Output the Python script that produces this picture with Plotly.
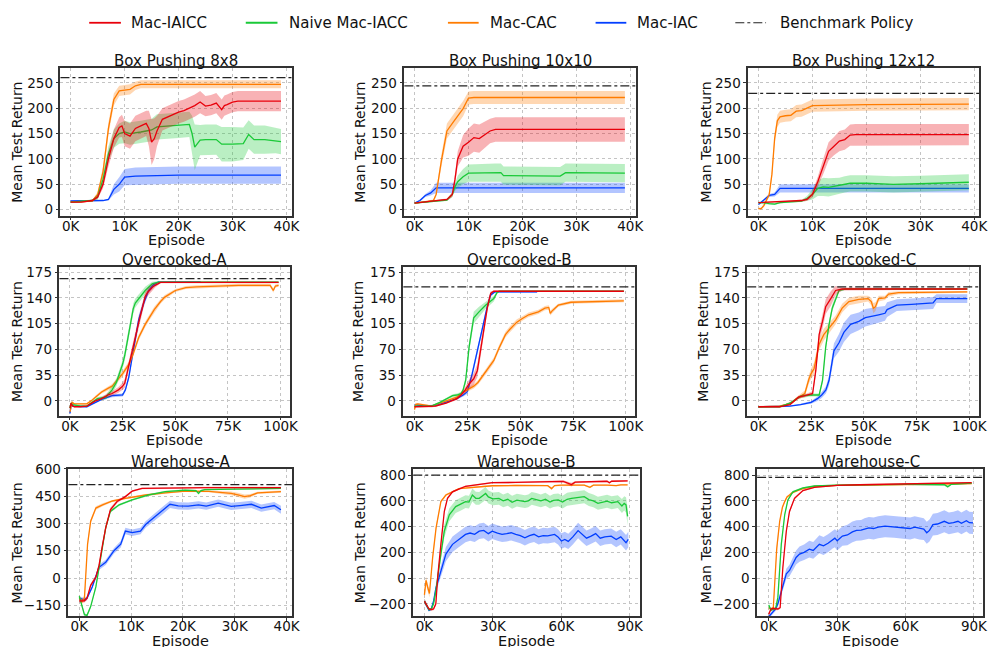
import plotly.graph_objects as go

W, H = 999, 647
FONT = "DejaVu Sans"

SERIES = ["Mac-IAICC", "Naive Mac-IACC", "Mac-CAC", "Mac-IAC"]
BENCH_NAME = "Benchmark Policy"
COLORS = {"Mac-IAICC": (232, 0, 11), "Naive Mac-IACC": (26, 201, 56),
          "Mac-CAC": (255, 124, 0), "Mac-IAC": (2, 62, 255)}

TITLES = ["Box Pushing 8x8", "Box Pushing 10x10", "Box Pushing 12x12",
          "Overcooked-A", "Overcooked-B", "Overcooked-C",
          "Warehouse-A", "Warehouse-B", "Warehouse-C"]
BENCHMARK = [260, 244, 229, 166, 155, 155, 513, 800, 782]

# ---- data: (episode in thousands, mean test return, band half-width) ----
BP8_IAICC = [(0,15,1),(2,15,1),(4,18,2),(5,25,4),(6,50,8),(7,100,15),(8,140,18),(9,162,20),(9.5,165,22),(10,150,25),(11,145,25),(12,160,25),(13,165,25),(14,170,25),(14.5,160,35),(15,133,45),(15.5,140,40),(16,155,30),(17,178,22),(18,183,22),(19,187,22),(20,192,22),(21,195,22),(22,200,22),(23,205,22),(24,212,22),(25,204,20),(26,206,20),(27,210,20),(28,197,20),(28.5,205,20),(29,207,20),(30,212,20),(31,214,20),(39,214,20)]
BP8_NAIVE = [(0,15,1),(4,18,2),(5,25,5),(6,60,10),(7,110,15),(8,140,18),(9,150,20),(10,153,22),(11,150,22),(12,151,22),(13,153,22),(14,155,22),(15,157,22),(16,163,25),(18,165,25),(20,166,25),(22,168,25),(22.5,150,35),(23,123,45),(24,137,30),(25,138,30),(27,138,30),(28,129,34),(30,129,34),(32,130,32),(33,148,28),(34,138,28),(36,138,28),(38,136,25),(39,134,25)]
BP8_CAC = [(0,15,1),(4,17,2),(5,30,5),(6,75,10),(7,160,12),(8,217,12),(9,234,10),(10,236,10),(11,237,10),(12,244,8),(13,247,8),(39,247,8)]
BP8_IAC = [(0,17,1),(6,18,1),(7,20,2),(8,40,10),(9,50,14),(10,64,16),(12,66,17),(15,67,17),(20,68,17),(39,68,17)]

BP10_IAICC = [(0,13,1),(6,20,2),(7,30,5),(7.5,60,10),(8,100,15),(9,125,22),(10,133,27),(11,142,28),(12,140,28),(13,147,26),(14,155,24),(15,158,24),(39,158,24)]
BP10_NAIVE = [(0,13,1),(3,16,2),(6,19,2),(7,30,5),(7.5,45,8),(8,55,12),(9,65,15),(10,72,17),(15,73,18),(16,73,18),(16.5,67,18),(20,67,18),(27,66,18),(28,73,18),(39,72,18)]
BP10_CAC = [(0,13,1),(2,15,1),(3,17,2),(3.5,18,2),(4,30,5),(5,98,12),(6,155,15),(7,170,15),(8,185,15),(9,199,15),(10,220,13),(11,221,13),(39,221,13)]
BP10_IAC = [(0,13,1),(1,18,2),(2,28,3),(3,33,5),(4,43,10),(39,43,10)]

BP12_IAICC = [(0,14,1),(5,16,1),(8,18,2),(9,20,3),(10,30,6),(11,55,10),(12,85,15),(13,115,18),(14,125,18),(15,135,20),(16,138,20),(17,147,21),(18,148,21),(39,148,21)]
BP12_NAIVE = [(0,14,2),(1,14,2),(2,12,2),(3,11,2),(4,14,2),(5,15,2),(8,17,2),(9,22,5),(10,30,10),(11,42,15),(12,45,18),(13,44,18),(14,46,17),(15,47,16),(16,50,16),(17,52,16),(20,52,16),(25,50,16),(30,51,16),(39,54,16)]
BP12_CAC = [(0,2,2),(0.5,2,2),(1,8,3),(2,30,5),(2.5,70,8),(3,140,10),(3.5,175,12),(4,183,12),(5,185,12),(6,186,12),(7,194,12),(8,195,12),(9,200,12),(10,205,12),(15,206,12),(20,207,12),(39,208,12)]
BP12_IAC = [(0,10,1),(1,20,2),(2,28,3),(3,30,4),(3.5,35,6),(4,42,8),(39,42,8)]

OCA_IAICC = [(0,-10,2),(0.5,-3,2),(1,-6,1),(2,-8,1),(5,-8,1),(8,-7,1),(12,0,1),(15,3,2),(18,8,3),(20,10,3),(23,15,4),(25,20,5),(26,24,6),(27,37,7),(28,50,8),(30,73,8),(32.6,106,8),(35.7,142,6),(37,148,5),(39,154,4),(40.4,157,3),(43,161,1),(60,161,1),(99,161,1)]
OCA_NAIVE = [(0,-10,2),(0.5,-3,2),(1,-5,1),(5,-7,1),(8,-7,1),(10,-3,1),(13,3,2),(17,5,3),(18,8,4),(20,15,5),(22,25,5),(23.5,37,6),(25,50,6),(26,62,7),(27,77,7),(28.5,100,7),(30,125,7),(31,133,6),(32.6,139,6),(35.7,150,5),(39,159,3),(42,161.5,1),(99,161.5,1)]
OCA_CAC = [(0,-15,2),(0.5,-5,2),(1,-2,2),(2,-4,1),(5,-4,1),(8,-4,1),(10,0,1),(12,5,2),(15,12,2),(18,17,3),(20,20,3),(25,37,4),(28,50,4),(30,64,4),(32.6,86,4),(35.7,104,4),(38,115,4),(40,124,4),(43,135,3),(45,141,3),(50,150,2),(55,154,2),(60,155,2),(70,156,2),(80,157,2),(95,157,2),(96.5,150,3),(97.5,156,2),(99,157,2)]
OCA_IAC = [(0,-17,2),(0.5,-5,2),(1,-7,1),(5,-8,1),(8,-8,1),(10,-5,1),(15,2,1),(20,7,2),(25,8,2),(26.3,15,3),(27.9,32,4),(29.5,59,5),(31,86,6),(32.6,110,6),(35,133,5),(37.3,150,4),(39.7,158,3),(42,161.5,1),(62,161.5,1)]

OCB_IAICC = [(0,-8,1),(8,-8,1),(10,-7,1),(15,-3,1),(18,0,1),(20,3,2),(22,8,2),(24,15,4),(25.8,23,6),(28,30,8),(29.7,41,9),(31.2,68,9),(32.8,95,8),(34.4,126,6),(36,146,3),(37.5,149,1),(99,149,1)]
OCB_NAIVE = [(0,-7,1),(3,-7,1),(8,-7,1),(12,-2,1),(15,3,1),(18,7,2),(20,8,2),(22,10,2),(23,15,3),(24.2,28,5),(25.8,73,7),(28,113,8),(30.5,121,7),(33.6,130,5),(37.5,139,4),(39,147,2),(40,149,1),(99,149,1)]
OCB_CAC = [(0,-12,2),(0.5,-5,2),(1.5,-4,1),(3,-5,1),(6,-6,1),(8,-7,1),(10,-5,1),(15,0,1),(20,5,2),(22,10,2),(25,15,2),(28,20,3),(30,25,3),(32,33,3),(35,45,4),(37.5,55,4),(40,72,4),(43,90,4),(45,97,4),(48.4,107,4),(51,112,3),(54,117,3),(58.6,121,3),(61.7,126,3),(63.5,127,3),(64.2,119,3),(65,122,3),(68,130,2),(74,134,2),(83.6,135,2),(99,136,2)]
OCB_IAC = [(0,-5,1),(5,-7,1),(10,-6,1),(15,-1,1),(20,3,1),(23,8,2),(25,12.5,3),(27.3,37,5),(29.7,68,6),(32,97,5),(34.4,128,4),(36,144,3),(38,148,1),(58,148,1)]

OCC_IAICC = [(0,-8,1),(10,-8,1),(15,-5,1),(17,0,1),(19,5,2),(22,7,2),(25,10,2),(25.7,10,3),(27.2,41,6),(28.8,90,8),(30.4,108,10),(31.9,128,10),(34.3,139,10),(36.6,150,6),(39.7,152,2),(99,152,1)]
OCC_NAIVE = [(0,-8,1),(10,-8,1),(15,-3,1),(18,3,1),(20,6,2),(22,7,2),(25,8,2),(28.8,8,2),(30.4,28,4),(31.9,73,5),(33.5,104,5),(35,126,5),(36.6,139,4),(38.2,150,2),(41.3,152,1),(99,152,1)]
OCC_CAC = [(0,-8,1),(10,-7,1),(13,-5,1),(16,-2,2),(18,3,2),(20,7,3),(22,10,4),(24,30,6),(25,37,7),(26.4,44,8),(28.8,77,8),(31,90,8),(33.5,99,7),(36.6,110,6),(39.7,126,6),(42.9,135,5),(47.6,138,5),(52,139,4),(53.5,135,5),(54.5,126,7),(55.5,128,6),(57,139,4),(60,140,3),(61.7,145,3),(66.4,147,2),(99,148,1)]
OCC_IAC = [(0,-8,1),(10,-8,1),(15,-7,1),(20,-5,1),(25,-2,2),(28,3,3),(30,8,4),(32,15,5),(33.5,28,7),(35.8,68,10),(38.2,79,12),(40.5,93,13),(43.7,104,13),(47.6,108,12),(50.7,113,12),(57,117,11),(60,119,10),(61,124,10),(65.6,130,8),(72.6,131,8),(82.8,133,8),(84.4,139,6),(99,139,6)]

WHA_IAICC = [(0,-125,10),(1,-125,10),(1.5,-110,10),(2.2,-40,10),(3.2,5,10),(3.8,68,12),(4.5,185,15),(5.1,276,15),(6,375,12),(7.3,420,8),(8.9,447,6),(10.2,477,5),(12.1,492,4),(16.6,495,4),(25,497,4),(38.9,497,4)]
WHA_NAIVE = [(0,-100,10),(0.5,-150,10),(1,-201,8),(1.5,-205,8),(2.2,-157,8),(3.2,-49,8),(4.1,95,10),(5.1,276,10),(6,366,8),(7.7,402,6),(10.2,429,5),(13.4,456,5),(16.6,474,5),(20.4,483,5),(22.5,480,5),(23,465,8),(23.5,480,5),(24.2,486,4),(30,488,4),(38.9,492,4)]
WHA_CAC = [(0,-110,15),(0.5,-130,15),(1,-110,15),(1.6,185,15),(2.2,312,12),(3.2,384,10),(4.5,402,8),(6.4,423,6),(8.9,438,5),(12.8,456,5),(16.6,468,5),(20.4,477,5),(25,476,5),(29.3,465,10),(30.6,456,12),(31.9,447,12),(33,452,10),(34.4,468,6),(38.9,474,6)]
WHA_IAC = [(0,-110,10),(1,-120,10),(1.5,-110,10),(2.5,-49,10),(3.8,59,15),(5.1,86,15),(6.7,150,15),(8,186,18),(8.9,258,18),(10.2,249,18),(11.8,258,18),(12.8,294,18),(14.7,339,20),(15.9,366,20),(17.5,405,20),(19.1,396,20),(21,395,20),(23,402,20),(24.5,395,20),(26.8,411,20),(29.3,393,20),(31,398,20),(33.2,405,20),(35.1,384,20),(36.5,390,20),(37.6,398,20),(38.9,375,22)]

WHB_IAICC = [(0,-180,20),(1,-210,15),(2,-240,10),(3,-245,10),(4,-240,10),(5,-200,15),(5.8,8,20),(7.2,262,20),(8.7,517,15),(10.1,619,10),(12.3,670,8),(18,713,6),(29.7,741,6),(40,743,6),(50,746,6),(60.8,751,8),(62.5,740,10),(64.4,726,15),(66,745,8),(70,748,6),(80,752,6),(81,740,8),(82,752,6),(89,755,6)]
WHB_NAIVE = [(0,-180,20),(1,-210,15),(2,-245,10),(3,-240,10),(4,-200,15),(5,-100,20),(6,50,30),(7.2,186,40),(8.7,364,50),(10.9,492,50),(13.7,555,50),(16,575,50),(18,594,50),(19.5,590,50),(21,645,50),(22.5,620,50),(24,619,50),(25.5,640,50),(26.8,657,50),(28,630,50),(30,615,50),(32.6,619,50),(34.5,600,50),(36.5,612,50),(38.4,589,50),(40.5,605,50),(42,600,50),(44,594,50),(45.5,600,50),(47,619,50),(49,610,50),(51,600,50),(53,612,50),(55,590,50),(56.5,603,50),(58.6,607,50),(60.5,590,50),(62.5,612,50),(64.4,619,50),(66.5,623,50),(68.5,628,50),(70,632,50),(72,610,50),(74,600,50),(76,581,50),(78,590,50),(80,597,50),(82,585,50),(84.7,594,50),(86.5,560,55),(87.5,580,55),(88.3,568,60),(89,479,70)]
WHB_CAC = [(0,-130,30),(0.7,-18,30),(1.4,-69,30),(2.2,-120,30),(3.6,160,25),(5.1,390,20),(7.2,594,10),(9.4,645,8),(15.2,695,6),(29.7,717,5),(40,719,5),(50,720,5),(54,718,5),(55.7,695,10),(57,718,5),(60,722,5),(70,722,5),(72.5,705,8),(74,722,5),(80,722,5),(84,718,5),(86,724,5),(89,724,5)]
WHB_IAC = [(0,-180,20),(1,-220,15),(2,-250,10),(3,-240,10),(4,-180,20),(5,-80,30),(6.5,8,40),(8,100,50),(9.4,186,55),(12.3,262,60),(15,300,60),(18,339,60),(20,350,60),(22,340,60),(24,364,60),(26,370,60),(28,345,60),(29.7,364,60),(32,350,60),(34,340,60),(36,345,60),(38,352,60),(40,340,60),(42,330,60),(44,313,60),(46,330,60),(48,340,60),(50,320,60),(52,330,60),(54,328,60),(57,339,60),(58.5,320,60),(60,288,60),(61.5,300,60),(63,285,60),(65,320,60),(67.3,369,60),(69,340,60),(71,310,60),(73,326,60),(75,345,60),(77,310,60),(79,320,60),(81.8,326,60),(84,300,60),(86,320,60),(88.3,275,60),(89.3,300,60)]

WHC_IAICC = [(0,-280,15),(0.5,-260,10),(1,-240,10),(2,-235,10),(3,-240,10),(4,-240,10),(5,-230,10),(6.2,84,20),(7.7,364,20),(9.1,517,15),(11.3,619,10),(13.5,657,8),(15,680,6),(20,705,5),(30,720,5),(40,725,5),(60,732,5),(89,742,5)]
WHC_NAIVE = [(0,-210,15),(1,-250,10),(2,-240,10),(3,-240,10),(4,-150,15),(5.5,262,20),(7,492,15),(8.4,607,10),(10.6,670,8),(15,700,5),(20,715,5),(30,722,5),(60,728,5),(77,725,5),(78.5,710,10),(80,728,5),(89,738,5)]
WHC_CAC = [(0,-230,15),(1,-240,10),(2,-230,10),(2.5,-100,15),(3,100,20),(3.5,230,20),(4.8,440,15),(6,550,12),(7,594,10),(8,630,8),(9.1,645,8),(10,660,6),(12,675,6),(15,695,5),(20,712,5),(30,720,5),(40,722,5),(60,725,5),(80,728,5),(89,733,5)]
WHC_IAC = [(0,-300,15),(1,-280,15),(2,-260,15),(3,-240,15),(4,-200,20),(5,-140,25),(6.2,-69,30),(7.7,33,40),(9.1,59,45),(10.6,110,50),(12,160,55),(13.5,186,60),(15.5,200,60),(17.8,224,65),(19.5,215,65),(22.2,262,70),(24,250,70),(26,270,70),(28,300,70),(29,310,70),(30,290,75),(32.3,326,75),(34.5,335,80),(36.7,359,80),(38.5,370,80),(40.5,372,80),(42,380,85),(43.9,390,85),(46,385,85),(48,395,85),(51,403,85),(53,400,85),(55,398,85),(57,395,85),(59.9,390,85),(62,385,85),(64,395,85),(66,385,85),(68,380,85),(69.3,352,85),(70.5,370,85),(72,415,85),(74,420,85),(77,441,85),(79,425,85),(81,430,85),(83,441,85),(84.5,425,85),(86.7,446,85),(88,430,85),(89.6,428,85)]

PANELS = [
    {"Mac-IAICC": BP8_IAICC, "Naive Mac-IACC": BP8_NAIVE, "Mac-CAC": BP8_CAC, "Mac-IAC": BP8_IAC},
    {"Mac-IAICC": BP10_IAICC, "Naive Mac-IACC": BP10_NAIVE, "Mac-CAC": BP10_CAC, "Mac-IAC": BP10_IAC},
    {"Mac-IAICC": BP12_IAICC, "Naive Mac-IACC": BP12_NAIVE, "Mac-CAC": BP12_CAC, "Mac-IAC": BP12_IAC},
    {"Mac-IAICC": OCA_IAICC, "Naive Mac-IACC": OCA_NAIVE, "Mac-CAC": OCA_CAC, "Mac-IAC": OCA_IAC},
    {"Mac-IAICC": OCB_IAICC, "Naive Mac-IACC": OCB_NAIVE, "Mac-CAC": OCB_CAC, "Mac-IAC": OCB_IAC},
    {"Mac-IAICC": OCC_IAICC, "Naive Mac-IACC": OCC_NAIVE, "Mac-CAC": OCC_CAC, "Mac-IAC": OCC_IAC},
    {"Mac-IAICC": WHA_IAICC, "Naive Mac-IACC": WHA_NAIVE, "Mac-CAC": WHA_CAC, "Mac-IAC": WHA_IAC},
    {"Mac-IAICC": WHB_IAICC, "Naive Mac-IACC": WHB_NAIVE, "Mac-CAC": WHB_CAC, "Mac-IAC": WHB_IAC},
    {"Mac-IAICC": WHC_IAICC, "Naive Mac-IACC": WHC_NAIVE, "Mac-CAC": WHC_CAC, "Mac-IAC": WHC_IAC},
]

# ---- layout: panel frames in pixels (left, right, top, bottom) ----
RECTS = [(61, 295, 61, 211), (408, 642, 61, 211), (755, 988, 61, 211),
         (60, 293, 263, 414), (407, 641, 263, 414), (754, 988, 263, 414),
         (69, 295, 468, 618), (417, 646, 468, 618), (764, 992, 468, 618)]
XRANGES = [(-1.9, 41.1), (-1.9, 41.1), (-1.9, 40.9),
           (-5.0, 104.6), (-5.3, 104.4), (-5.3, 104.6),
           (-2.1, 41.1), (-4.9, 94.5), (-5.1, 94.0)]
YRANGES = [(-12, 279)] * 3 + [(-20, 182)] * 3 + [(-211, 600), (-298, 849), (-298, 849)]
XTICKS = [[0, 10, 20, 30, 40]] * 3 + [[0, 25, 50, 75, 100]] * 3 + [[0, 10, 20, 30, 40], [0, 30, 60, 90], [0, 30, 60, 90]]
YTICKS = [[0, 50, 100, 150, 200, 250]] * 3 + [[0, 35, 70, 105, 140, 175]] * 3 + \
         [[-150, 0, 150, 300, 450, 600], [-200, 0, 200, 400, 600, 800], [-200, 0, 200, 400, 600, 800]]
YLABEL_GAP = [44, 45, 43, 43, 45, 44, 52, 54, 52]

DRAW_ORDER = ["Mac-IAC", "Mac-CAC", "Naive Mac-IACC", "Mac-IAICC"]


def rgba(c, a):
    return f"rgba({c[0]},{c[1]},{c[2]},{a})"


fig = go.Figure()
annotations = []
shapes = []

for i, panel in enumerate(PANELS):
    n = i + 1
    xa = "x" if n == 1 else f"x{n}"
    ya = "y" if n == 1 else f"y{n}"
    for name in DRAW_ORDER:
        pts = panel[name]
        xs = [p[0] for p in pts]
        ms = [p[1] for p in pts]
        up = [p[1] + p[2] for p in pts]
        lo = [p[1] - p[2] for p in pts]
        col = COLORS[name]
        fig.add_trace(go.Scatter(x=xs + xs[::-1], y=up + lo[::-1], fill="toself",
                                 fillcolor=rgba(col, 0.3), line=dict(width=0),
                                 mode="lines", hoverinfo="skip", showlegend=False,
                                 xaxis=xa, yaxis=ya))
        fig.add_trace(go.Scatter(x=xs, y=ms, mode="lines", name=name,
                                 line=dict(color=rgba(col, 1), width=1.3),
                                 showlegend=False, xaxis=xa, yaxis=ya))
    shapes.append(dict(type="line", xref=f"{xa} domain", yref=ya, x0=0, x1=1,
                       y0=BENCHMARK[i], y1=BENCHMARK[i],
                       line=dict(color="#222222", width=1.2, dash="dashdot")))

    l, r, t, b = RECTS[i]
    axis_common = dict(showline=True, mirror=True, linecolor="#333333", linewidth=1.5,
                       ticks="outside", ticklen=3, tickcolor="#333333",
                       showgrid=True, gridcolor="#c4c4c4", griddash="dot", gridwidth=1,
                       zeroline=False, tickfont=dict(family=FONT, size=13.5, color="#111111"))
    fig.layout[("xaxis" if n == 1 else f"xaxis{n}")] = dict(
        domain=[l / W, r / W], anchor=ya, range=list(XRANGES[i]), ticklabelstandoff=-6,
        tickvals=XTICKS[i], ticktext=[f"{v}K" for v in XTICKS[i]], **axis_common)
    fig.layout[("yaxis" if n == 1 else f"yaxis{n}")] = dict(
        domain=[1 - b / H, 1 - t / H], anchor=xa, range=list(YRANGES[i]),
        tickvals=YTICKS[i], **axis_common)

    annotations.append(dict(text=TITLES[i], xref="paper", yref="paper",
                            x=(l + r) / 2 / W, y=1 - (t - 7) / H, xanchor="center", yanchor="middle",
                            showarrow=False, font=dict(family=FONT, size=15, color="#111111")))
    annotations.append(dict(text="Episode", xref="paper", yref="paper",
                            x=(l + r) / 2 / W, y=1 - (b + 25) / H, xanchor="center", yanchor="middle",
                            showarrow=False, font=dict(family=FONT, size=14.5, color="#111111")))
    annotations.append(dict(text="Mean Test Return", xref="paper", yref="paper",
                            x=(l - YLABEL_GAP[i]) / W, y=1 - (t + b) / 2 / H, xanchor="center",
                            yanchor="middle", textangle=-90, showarrow=False,
                            font=dict(family=FONT, size=14, color="#111111")))

# ---- legend (top row) ----
LEG_LINES = [(90, 122), (248, 280), (452, 483), (601, 632), (742, 773)]
LEG_TEXT_X = [130, 290, 492, 641, 785]
LEG_Y = 15
leg_names = SERIES + [BENCH_NAME]
for k, nm in enumerate(leg_names):
    x0, x1 = LEG_LINES[k]
    if nm == BENCH_NAME:
        ln = dict(color="#222222", width=1.2, dash="dashdot")
    else:
        ln = dict(color=rgba(COLORS[nm], 1), width=1.8)
    shapes.append(dict(type="line", xref="paper", yref="paper", x0=x0 / W, x1=x1 / W,
                       y0=1 - LEG_Y / H, y1=1 - LEG_Y / H, line=ln))
    annotations.append(dict(text=nm, xref="paper", yref="paper", x=LEG_TEXT_X[k] / W,
                            y=1 - LEG_Y / H, xanchor="left", yanchor="middle", showarrow=False,
                            font=dict(family=FONT, size=15, color="#111111")))

fig.update_layout(width=W, height=H, margin=dict(l=0, r=0, t=0, b=0),
                  paper_bgcolor="white", plot_bgcolor="white",
                  annotations=annotations, shapes=shapes, showlegend=False,
                  font=dict(family=FONT))
fig.write_html("out.html", config={"displayModeBar": False},
               post_script="document.body.style.margin='0';document.body.style.overflow='hidden';")
